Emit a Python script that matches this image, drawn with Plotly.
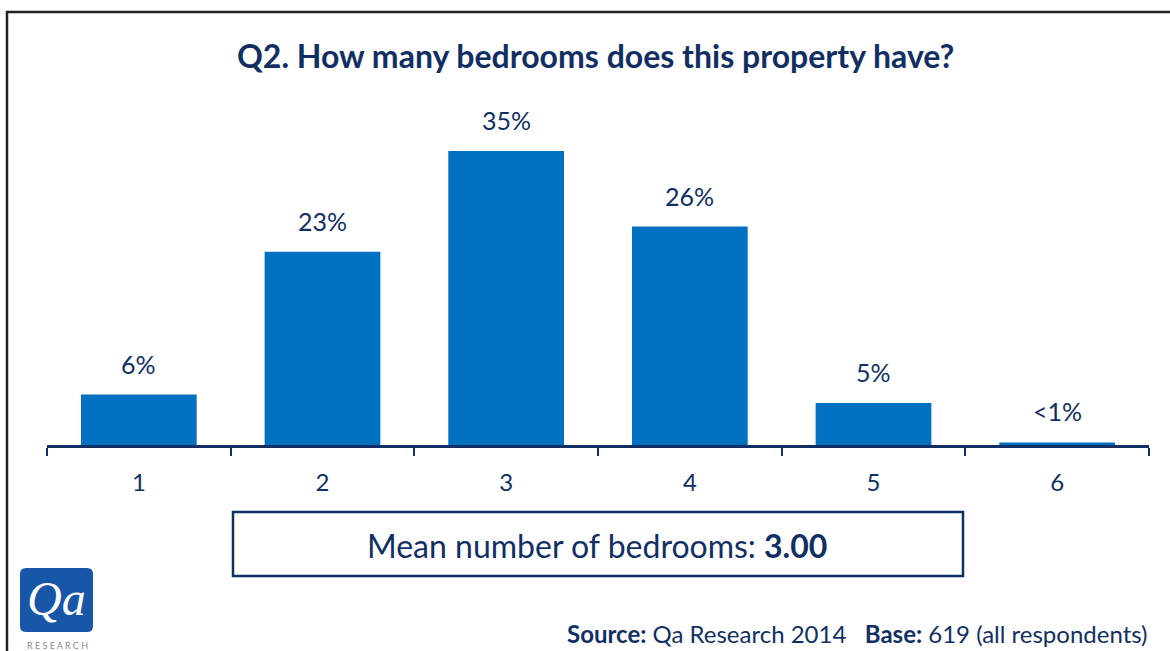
import plotly.graph_objects as go

# Survey results: number of bedrooms
categories = ["1", "2", "3", "4", "5", "6"]
shares = [6, 23, 35, 26, 5, 0.3]
share_labels = ["6%", "23%", "35%", "26%", "5%", "<1%"]
mean_bedrooms = "3.00"

W, H = 1170, 651
NAVY = "#112F63"
BLUE = "#0070C0"
FONT = "Lato"

# plot area geometry (pixels)
L, R, T, B = 47, 21, 109, 206
PW, PH = W - L - R, H - T - B


def px(x):
    return (x - L) / PW


def py(y):
    return (H - B - y) / PH


fig = go.Figure(
    go.Bar(
        x=categories,
        y=shares,
        marker=dict(color=BLUE, line=dict(width=0)),
        width=0.63,
        hovertext=share_labels,
    )
)

fig.update_layout(
    width=W,
    height=H,
    margin=dict(l=L, r=R, t=T, b=B),
    paper_bgcolor="white",
    plot_bgcolor="white",
    showlegend=False,
    font=dict(family=FONT, color=NAVY),
    xaxis=dict(
        type="category",
        range=[-0.5, len(categories) - 0.5],
        showline=True,
        linecolor=NAVY,
        linewidth=2.5,
        ticks="outside",
        tickson="boundaries",
        ticklen=8,
        tickwidth=2,
        tickcolor=NAVY,
        tickfont=dict(family=FONT, size=24, color=NAVY),
        ticklabelstandoff=14,
        showgrid=False,
        fixedrange=True,
    ),
    yaxis=dict(range=[0, 40], visible=False, fixedrange=True),
    bargap=0.37,
)

shapes = [
    # outer frame
    dict(type="rect", xref="paper", yref="paper",
         x0=px(7), x1=px(1180), y0=py(12), y1=py(670),
         line=dict(color="#222222", width=2.5), fillcolor="rgba(0,0,0,0)", layer="below"),
    # mean box
    dict(type="rect", xref="paper", yref="paper",
         x0=px(233), x1=px(963), y0=py(512), y1=py(576),
         line=dict(color=NAVY, width=2.5), fillcolor="white"),
    # logo tile
    dict(type="path", xref="paper", yref="paper",
         path=(f"M {px(26)},{py(568)} L {px(87)},{py(568)} "
               f"Q {px(93)},{py(568)} {px(93)},{py(574)} L {px(93)},{py(626)} "
               f"Q {px(93)},{py(632)} {px(87)},{py(632)} L {px(26)},{py(632)} "
               f"Q {px(20)},{py(632)} {px(20)},{py(626)} L {px(20)},{py(574)} "
               f"Q {px(20)},{py(568)} {px(26)},{py(568)} Z"),
         line=dict(width=0), fillcolor="#1856A8"),
]

# value labels above each bar (category axis positions are indices)
annotations = [
    dict(text=lab, x=i, y=val, xref="x", yref="y",
         xanchor="center", yanchor="bottom", yshift=14, showarrow=False,
         font=dict(family=FONT, size=25, color=NAVY))
    for i, (val, lab) in enumerate(zip(shares, share_labels))
]

annotations += [
    dict(text="<b>Q2. How many bedrooms does this property have?</b>",
         xref="paper", yref="paper", x=px(595), y=py(56),
         xanchor="center", yanchor="middle", showarrow=False,
         font=dict(family=FONT, size=32, color=NAVY)),
    dict(text=f"Mean number of bedrooms: <b>{mean_bedrooms}</b>",
         xref="paper", yref="paper", x=px(597), y=py(545),
         xanchor="center", yanchor="middle", showarrow=False,
         font=dict(family=FONT, size=32, color=NAVY)),
    dict(text="<b>Source:</b> Qa Research 2014   <b>Base:</b> 619 (all respondents)",
         xref="paper", yref="paper", x=px(1150), y=py(633),
         xanchor="right", yanchor="middle", showarrow=False,
         font=dict(family=FONT, size=24, color=NAVY)),
    dict(text="<i>Qa</i>",
         xref="paper", yref="paper", x=px(56), y=py(598),
         xanchor="center", yanchor="middle", showarrow=False,
         font=dict(family="Liberation Serif", size=48, color="white")),
    dict(text="R E S E A R C H",
         xref="paper", yref="paper", x=px(57), y=py(645),
         xanchor="center", yanchor="middle", showarrow=False,
         font=dict(family=FONT, size=9, color="#8A8A8A")),
]

fig.update_layout(shapes=shapes, annotations=annotations)

fig.write_html("out.html")
